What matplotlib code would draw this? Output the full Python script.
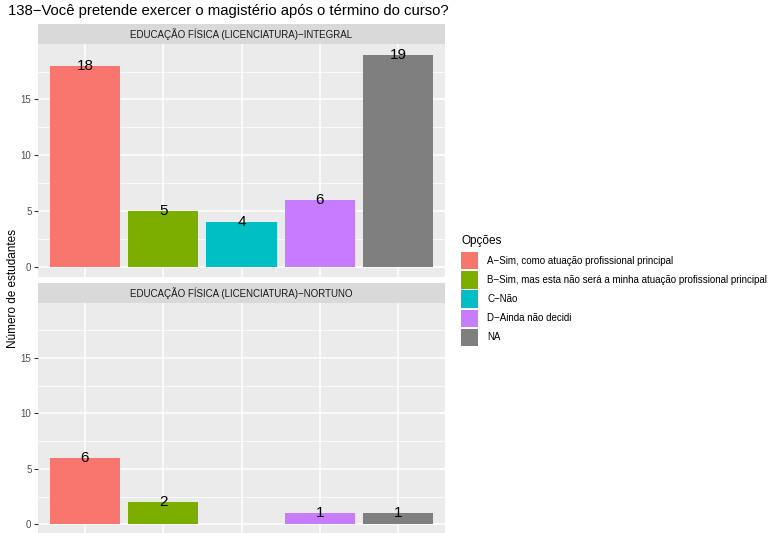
import matplotlib.pyplot as plt
from matplotlib.patches import Rectangle

plt.rcParams['font.family'] = ['Liberation Sans', 'DejaVu Sans']

# dados
opcoes = ["A\u2212Sim, como atuação profissional principal",
          "B\u2212Sim, mas esta não será a minha atuação profissional principal",
          "C\u2212Não",
          "D\u2212Ainda não decidi",
          "NA"]
cores = ["#F8766D", "#7CAE00", "#00BFC4", "#C77CFF", "#7F7F7F"]
integral = [18, 5, 4, 6, 19]
nortuno = [6, 2, None, 1, 1]
facetas = ["EDUCAÇÃO FÍSICA (LICENCIATURA)\u2212INTEGRAL",
           "EDUCAÇÃO FÍSICA (LICENCIATURA)\u2212NORTUNO"]

W, H = 768, 533
fig = plt.figure(figsize=(W / 100, H / 100), dpi=100)

def px(x0, y0, x1, y1):
    return [x0 / W, 1 - y1 / H, (x1 - x0) / W, (y1 - y0) / H]

paineis = [(24.3, 44.3, 277.3, integral), (283, 303, 535, nortuno)]
for (ys, y0, y1, vals), nome in zip(paineis, facetas):
    # strip
    st = fig.add_axes(px(38, ys, 445, y0))
    st.set_facecolor("#D9D9D9")
    st.set_xticks([]); st.set_yticks([])
    for s in st.spines.values():
        s.set_visible(False)
    st.text(0.5, 0.5, nome, ha="center", va="center", fontsize=7, color="#1A1A1A")

    ax = fig.add_axes(px(38, y0, 445, y1))
    ax.set_facecolor("#EBEBEB")
    for s in ax.spines.values():
        s.set_visible(False)
    ax.set_xlim(0.4, 5.6)
    ax.set_ylim(-0.95, 19.95)
    ax.set_yticks([0, 5, 10, 15])
    ax.set_yticks([2.5, 7.5, 12.5, 17.5], minor=True)
    ax.set_xticks([1, 2, 3, 4, 5])
    ax.set_xticklabels([])
    ax.grid(True, which="major", color="white", linewidth=1.1)
    ax.grid(True, which="minor", axis="y", color="white", linewidth=0.55)
    ax.set_axisbelow(True)
    ax.tick_params(axis="y", which="major", labelsize=7, labelcolor="#4D4D4D",
                   color="#333333", length=2.7, width=0.8, pad=2)
    ax.tick_params(axis="y", which="minor", length=0)
    ax.tick_params(axis="x", length=0)
    for i, v in enumerate(vals):
        if v is None:
            continue
        ax.bar(i + 1, v, width=0.9, color=cores[i])
        ax.text(i + 1, v, str(v), ha="center", va="center", fontsize=11, color="black")

fig.text(13 / W, 1 - 288 / H, "Número de estudantes", rotation=90,
         ha="center", va="center", fontsize=8.5)
fig.text(8 / W, 1 - 11 / H, "138\u2212Você pretende exercer o magistério após o término do curso?",
         ha="left", va="center", fontsize=10.7)

# legenda
fig.text(462 / W, 1 - 241 / H, "Opções", ha="left", va="center", fontsize=8.5)
for k, (lab, c) in enumerate(zip(opcoes, cores)):
    top = 252 + k * 19.2
    fig.patches.append(Rectangle((461 / W, 1 - (top + 17.3) / H), 17.3 / W, 17.3 / H,
                                 transform=fig.transFigure, facecolor=c, edgecolor="none"))
    fig.text(487 / W, 1 - (top + 8.6) / H, lab, ha="left", va="center", fontsize=7)

fig.savefig("out.png", dpi=100)
